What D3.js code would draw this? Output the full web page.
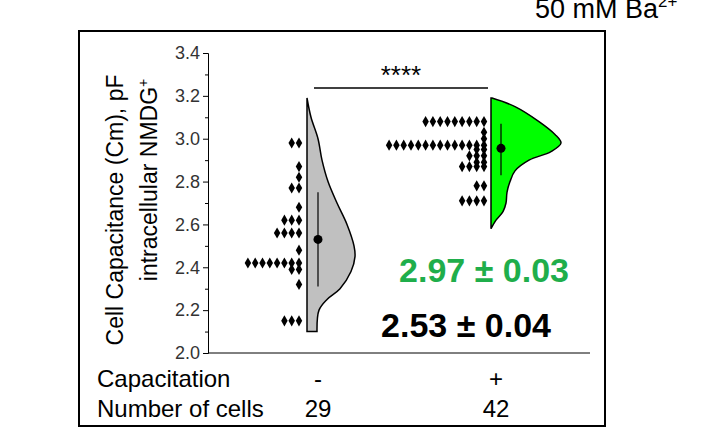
<!DOCTYPE html>
<html><head><meta charset="utf-8">
<script src="https://cdn.jsdelivr.net/npm/d3@7"></script>
<style>body{margin:0;background:#fff}text{font-family:Arial,"Liberation Sans",sans-serif}</style>
</head><body>
<svg id="chart" width="717" height="436"></svg>
<script>
// rows of the dot plots: [value, count]
var minusRows = [[2.98,2],[2.87,1],[2.82,1],[2.77,2],[2.68,1],[2.62,3],[2.56,4],[2.48,1],[2.42,8],[2.39,2],[2.32,1],[2.15,3]];
var plusRows = [[3.08,9],[3.03,1],[3.00,1],[2.97,14],[2.95,2],[2.92,3],[2.89,2],[2.87,4],[2.78,2],[2.71,4]];
// violin outlines: [value, density]
var minusViolin = [[3.19,0],[3.1,4],[3.0,11],[2.9,15],[2.8,21],[2.7,30],[2.6,40],[2.5,47],[2.45,48],[2.38,44],[2.3,33],[2.25,20],[2.2,12],[2.1,10]];
var plusViolin = [[3.19,1],[3.15,24],[3.08,48],[3.02,64],[2.98,70],[2.94,60],[2.9,38],[2.85,24],[2.8,19],[2.75,16],[2.7,15],[2.66,12],[2.62,5],[2.58,0]];
var means = [2.53, 2.955];
var whiskers = [[2.31,2.75],[2.83,3.07]];
var yTicks = [2.0,2.2,2.4,2.6,2.8,3.0,3.2,3.4];

var svg = d3.select("#chart");
var y = d3.scaleLinear().domain([2.0,3.4]).range([353,53]);

svg.append("rect").attr("x",79).attr("y",31).attr("width",526).attr("height",395)
  .attr("fill","none").attr("stroke","#000").attr("stroke-width",2);

var ax = svg.append("g").attr("transform","translate(208,0)")
  .call(d3.axisLeft(y).tickValues(yTicks).tickFormat(d3.format(".1f")).tickSize(5));
ax.select(".domain").attr("stroke-width",1);
ax.selectAll("text").attr("font-size",18).attr("fill","#333");
svg.append("g").attr("transform","translate(208,0)")
  .call(d3.axisLeft(y).tickValues(d3.range(2.1,3.4,0.2)).tickFormat("").tickSize(3))
  .select(".domain").remove();
svg.append("line").attr("x1",208).attr("x2",590).attr("y1",353).attr("y2",353).attr("stroke","#000");

function violin(data, x0, fill){
  var area = d3.area().curve(d3.curveCatmullRom)
    .y(function(d){return y(d[0]);}).x0(x0).x1(function(d){return x0 + d[1];});
  svg.append("path").datum(data).attr("d",area).attr("fill",fill).attr("stroke","#000").attr("stroke-width",1.5);
}
violin(minusViolin, 307, "#c0c0c0");
violin(plusViolin, 491, "#00ff00");

function dots(rows, xr){
  rows.forEach(function(r){
    d3.range(r[1]).forEach(function(i){
      svg.append("path").attr("d",d3.symbol(d3.symbolDiamond,36)())
        .attr("transform","translate("+(xr - i*7.3)+","+y(r[0])+")").attr("fill","#000");
    });
  });
}
dots(minusRows, 299);
dots(plusRows, 484);

[318,501].forEach(function(cx,i){
  svg.append("line").attr("x1",cx).attr("x2",cx).attr("y1",y(whiskers[i][0])).attr("y2",y(whiskers[i][1])).attr("stroke","#000").attr("stroke-width",1.2);
  svg.append("circle").attr("cx",cx).attr("cy",y(means[i])).attr("r",4.5).attr("fill","#000");
});

svg.append("line").attr("x1",314).attr("x2",488).attr("y1",88).attr("y2",88).attr("stroke","#000").attr("stroke-width",1.5);
svg.append("text").attr("x",401).attr("y",84).attr("text-anchor","middle").attr("font-size",26).text("****");

svg.append("text").attr("x",484).attr("y",282).attr("text-anchor","middle").attr("font-size",34).attr("font-weight","bold").attr("fill","#1fae4b").text("2.97 ± 0.03");
svg.append("text").attr("x",466).attr("y",337).attr("text-anchor","middle").attr("font-size",34).attr("font-weight","bold").attr("fill","#000").text("2.53 ± 0.04");

var t = svg.append("text").attr("x",535).attr("y",18).attr("font-size",27);
t.append("tspan").text("50 mM Ba");
t.append("tspan").attr("font-size",17).attr("dy",-11).text("2+");

svg.append("text").attr("transform","translate(123,210) rotate(-90)").attr("text-anchor","middle").attr("font-size",23).text("Cell Capacitance (Cm), pF");
var t2 = svg.append("text").attr("transform","translate(157,180) rotate(-90)").attr("text-anchor","middle").attr("font-size",23);
t2.append("tspan").text("intracellular NMDG");
t2.append("tspan").attr("font-size",14).attr("dy",-9).text("+");

var rowsLbl = [["Capacitation","-","+",387],["Number of cells","29","42",417]];
rowsLbl.forEach(function(r){
  svg.append("text").attr("x",97).attr("y",r[3]).attr("font-size",24).text(r[0]);
  svg.append("text").attr("x",318).attr("y",r[3]).attr("text-anchor","middle").attr("font-size",24).text(r[1]);
  svg.append("text").attr("x",496).attr("y",r[3]).attr("text-anchor","middle").attr("font-size",24).text(r[2]);
});
</script>
</body></html>
